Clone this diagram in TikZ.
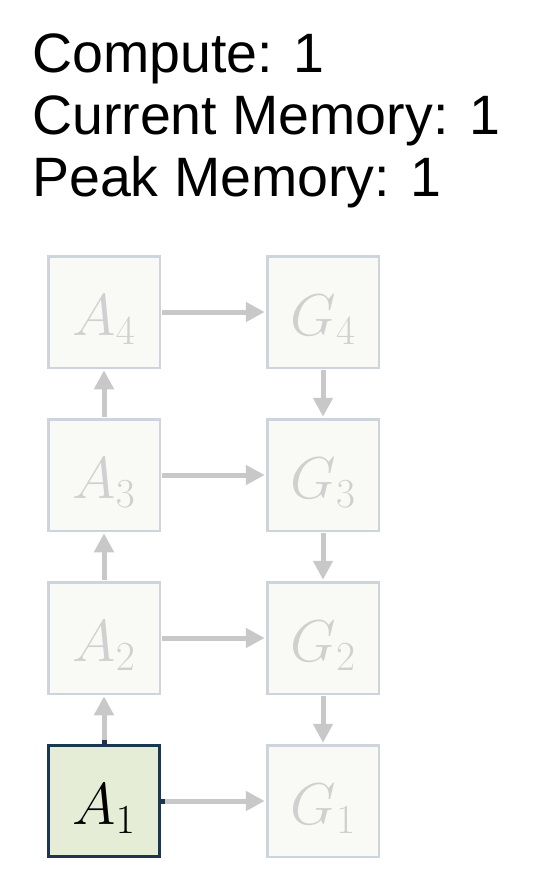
\RequirePackage{fix-cm}
\documentclass[tikz,border=0pt]{standalone}
\usepackage{fontspec}
\setmainfont{Liberation Sans}
\usetikzlibrary{arrows.meta}
\definecolor{boxfill}{HTML}{F9F9F6}
\definecolor{boxline}{HTML}{CDD4DB}
\definecolor{labgray}{HTML}{D0D0D0}
\definecolor{arrgray}{HTML}{C8C8C8}
\definecolor{activefill}{HTML}{E6EDD7}
\definecolor{activeline}{HTML}{1C3550}
\newcommand{\cellLabel}[1]{\raisebox{-8pt}[\height][\depth]{$#1$}}
\begin{document}
\begin{tikzpicture}[x=1pt,y=-1pt,
  cell/.style={draw=boxline, fill=boxfill, line width=2.5pt, minimum size=111.5pt,
    inner sep=0pt, text=labgray, font=\fontsize{59}{60}\selectfont},
  activecell/.style={cell, draw=activeline, fill=activefill, text=black, line width=3pt, minimum size=111pt},
  flow/.style={draw=arrgray, line width=5pt, shorten <=1.25pt, shorten >=1.25pt,
    -{Triangle[length=19pt,width=19pt]}},
  stub/.style={draw=activeline, line width=5pt},
  info/.style={anchor=base west, inner sep=0pt, font=\fontsize{55.5}{60}\selectfont}]
\useasboundingbox (0,0) rectangle (538,886);
\node[info] (t1) at (32,72) {Compute: 1};
\node[info] (t2) at (32,134) {Current Memory: 1};
\node[info] (t3) at (32,196) {Peak Memory: 1};

\node[cell] (a4) at (104,312) {\cellLabel{A_4}};
\node[cell] (a3) at (104,475) {\cellLabel{A_3}};
\node[cell] (a2) at (104,638) {\cellLabel{A_2}};
\node[activecell] (a1) at (104,801) {\cellLabel{A_1}};
\node[cell] (g4) at (323,312) {\cellLabel{G_4}};
\node[cell] (g3) at (323,475) {\cellLabel{G_3}};
\node[cell] (g2) at (323,638) {\cellLabel{G_2}};
\node[cell] (g1) at (323,801) {\cellLabel{G_1}};

\draw[flow] (a4.east) -- (g4.west);
\draw[flow] (a3.east) -- (g3.west);
\draw[flow] (a2.east) -- (g2.west);
\draw[flow] (a1.east) -- (g1.west);
\draw[flow] (a1.north) -- (a2.south);
\draw[flow] (a2.north) -- (a3.south);
\draw[flow] (a3.north) -- (a4.south);
\draw[flow] (g4.south) -- (g3.north);
\draw[flow] (g3.south) -- (g2.north);
\draw[flow] (g2.south) -- (g1.north);
\draw[stub] (a1.east) -- ++(4,0);
\draw[stub] (a1.north) -- ++(0,-4);
\end{tikzpicture}
\end{document}
